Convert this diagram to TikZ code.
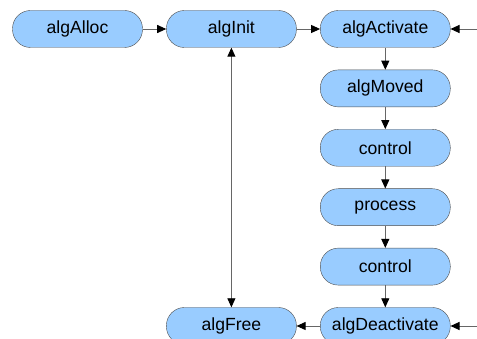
\documentclass[tikz,border=0pt]{standalone}
\usepackage{fontspec}
\setmainfont{Liberation Sans}
\usetikzlibrary{arrows.meta, positioning}

\definecolor{boxfill}{HTML}{99CCFF}
\definecolor{boxline}{HTML}{4D4D4D}
\definecolor{wire}{HTML}{666666}

\begin{document}
\begin{tikzpicture}[
    x=1pt, y=-1pt,
    node distance=22pt and 23.5pt,
    state/.style={rectangle, draw=boxline, fill=boxfill, rounded corners=18pt, align=center, minimum height=37pt, minimum width=130pt, inner sep=0pt, font=\fontsize{17.6}{20}\selectfont},
    arrow/.style={-{Triangle[length=9pt, width=8pt, color=black]}, draw=wire, line width=0.9pt},
    both/.style={{Triangle[length=9pt, width=8pt, color=black]}-{Triangle[length=9pt, width=8pt, color=black]}, draw=wire, line width=0.9pt}
]
\useasboundingbox (0,0) rectangle (477,339);

\node[state] (alloc) at (77.5,29) {algAlloc};
\node[state, right=of alloc] (init) {algInit};
\node[state, right=of init] (activate) {algActivate};
\node[state, below=of activate] (moved) {algMoved};
\node[state, below=of moved] (ctrlA) {control};
\node[state, below=of ctrlA] (process) {process};
\node[state, below=of process] (ctrlB) {control};
\node[state, below=of ctrlB] (deactivate) {algDeactivate};
\node[state, left=of deactivate] (free) {algFree};

\coordinate[right=28pt of activate.east] (inTop);
\coordinate[right=28pt of deactivate.east] (inBot);

\draw[arrow] (alloc) -- (init);
\draw[arrow] (init) -- (activate);
\draw[arrow] (inTop) -- (activate);
\draw[arrow] (activate) -- (moved);
\draw[arrow] (moved) -- (ctrlA);
\draw[arrow] (ctrlA) -- (process);
\draw[arrow] (process) -- (ctrlB);
\draw[arrow] (ctrlB) -- (deactivate);
\draw[arrow] (inBot) -- (deactivate);
\draw[arrow] (deactivate) -- (free);
\draw[both] (init) -- (free);
\end{tikzpicture}
\end{document}
